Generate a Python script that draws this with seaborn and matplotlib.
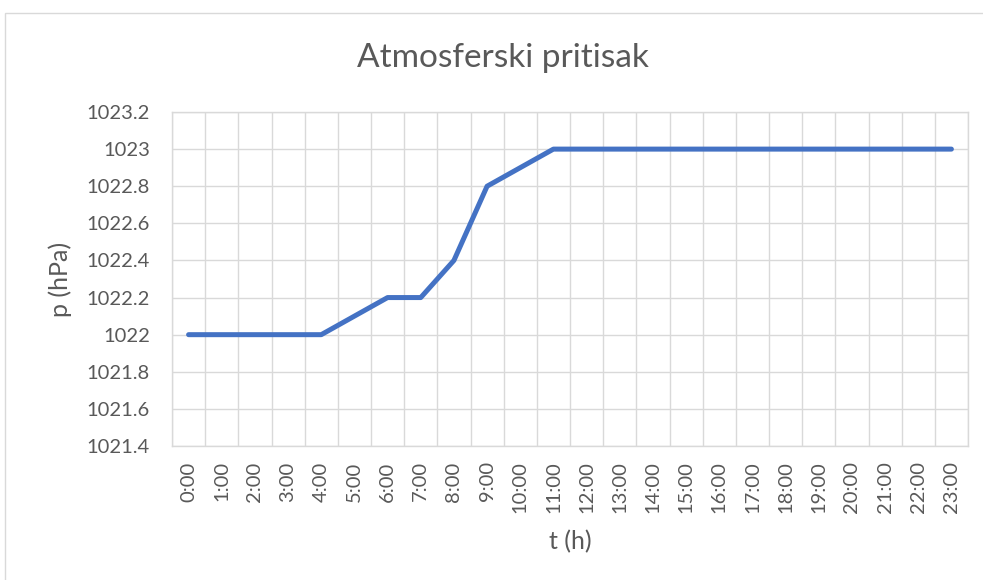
import matplotlib
matplotlib.use("Agg")
import matplotlib.pyplot as plt
import seaborn as sns
import pandas as pd
import numpy as np
from matplotlib.ticker import FixedLocator, FuncFormatter
from matplotlib.patches import Rectangle

hours = [f"{h}:00" for h in range(24)]
pressure = [1022, 1022, 1022, 1022, 1022, 1022.1, 1022.2, 1022.2, 1022.4, 1022.8,
            1022.9, 1023, 1023, 1023, 1023, 1023, 1023, 1023, 1023, 1023,
            1023, 1023, 1023, 1023]
title = "Atmosferski pritisak"
xlabel = "t (h)"
ylabel = "p (hPa)"

sns.set_theme(style="white")
plt.rcParams['font.family'] = ['Lato', 'DejaVu Sans']

df = pd.DataFrame({"idx": np.arange(len(hours)), "p": pressure})

W, H = 983, 580
L, R, T, B = 172, 968, 112, 446
fig = plt.figure(figsize=(W/100, H/100), dpi=100)
ax = fig.add_axes([L/W, 1-B/H, (R-L)/W, (B-T)/H])

sns.lineplot(data=df, x="idx", y="p", ax=ax, color="#4472C4", linewidth=3.6,
             solid_capstyle="round", solid_joinstyle="round")

ax.set_xlim(-0.5, len(hours) - 0.5)
ax.set_ylim(1021.4, 1023.2)
ax.set_yticks(np.round(np.arange(1021.4, 1023.21, 0.2), 1))
ax.yaxis.set_major_formatter(FuncFormatter(lambda v, p: f"{v:g}"))
ax.set_xticks(np.arange(len(hours)))
ax.set_xticklabels(hours, rotation=90)
ax.xaxis.set_minor_locator(FixedLocator(np.arange(-0.5, len(hours), 1.0)))

ax.grid(False)
ax.grid(True, which="minor", axis="x", color="#d9d9d9", linewidth=1)
ax.grid(True, which="major", axis="y", color="#d9d9d9", linewidth=1)
ax.set_axisbelow(True)
for s in ax.spines.values():
    s.set_color("#d9d9d9")
    s.set_linewidth(1)

ax.tick_params(axis="both", which="both", length=0, labelsize=14.5, labelcolor="#595959")
ax.tick_params(axis="x", pad=11)
ax.tick_params(axis="y", pad=16)

ax.set_xlabel(xlabel, fontsize=18, color="#595959")
ax.set_ylabel(ylabel, fontsize=18, color="#595959")
ax.xaxis.label.set_va("center")
ax.yaxis.label.set_va("center")
ax.xaxis.set_label_coords(0.5, (B - 542) / (B - T))
ax.yaxis.set_label_coords((60 - L) / (R - L), 0.5)

fig.text(503/W, 1-58/H, title, ha="center", va="center", fontsize=24, color="#595959")

fig.patches.append(Rectangle((5/W, -0.01), 1.0, 1-13/H + 0.01, transform=fig.transFigure,
                             fill=False, edgecolor="#d9d9d9", linewidth=1))

fig.savefig("out.png", dpi=100)
